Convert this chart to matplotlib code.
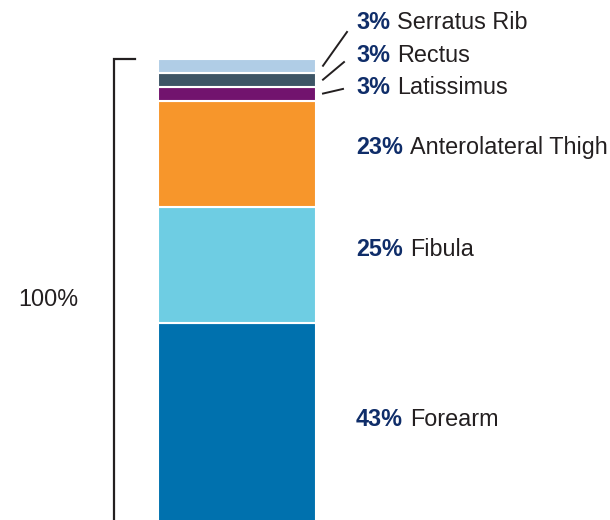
import matplotlib
matplotlib.use("Agg")
import matplotlib.pyplot as plt

# Data (bottom to top)
categories = ["Forearm", "Fibula", "Anterolateral Thigh", "Latissimus", "Rectus", "Serratus Rib"]
values = [43, 25, 23, 3, 3, 3]
total_label = "100%"

colors = ["#0071AE", "#6ECDE3", "#F7962B", "#72136E", "#3D5566", "#B0CDE6"]
pct_color = "#0F2D69"
name_color = "#231F20"
FONT = "Liberation Sans"
FS = 16.8

fig = plt.figure(figsize=(6.1, 5.2), dpi=100)
ax = fig.add_axes([0, 0, 1, 1])
ax.set_xlim(0, 610)
ax.set_ylim(0.43, 112.7)
ax.axis("off")

bar_x = 237
bar_w = 158
bottom = 0
mids = []
for cat, v, c in zip(categories, values, colors):
    ax.bar(bar_x, v, width=bar_w, bottom=bottom, color=c, edgecolor="white", linewidth=1.5)
    mids.append(bottom + v / 2)
    bottom += v

# bracket
ax.plot([135, 114, 114], [bottom, bottom, -5], color=name_color, lw=1.6,
        solid_joinstyle="miter", clip_on=False)
ax.text(48, 48.0, total_label, ha="center", va="center", fontsize=FS,
        color=name_color, family=FONT)

# label positions
label_x = 356
small_label_y = [93.8, 100.7, 107.8]
label_ys = [mids[0] + 0.6, mids[1] + 3.3, mids[2] + 1.3] + small_label_y

for i, (cat, v, ly) in enumerate(zip(categories, values, label_ys)):
    t = ax.text(label_x, ly, f"{v}%", ha="left", va="center", fontsize=FS,
                fontweight="bold", color=pct_color, family=FONT)
    ax.annotate(cat, xy=(1, 0.5), xycoords=t, xytext=(5, 0), textcoords="offset points",
                ha="left", va="center", fontsize=FS, color=name_color, family=FONT)

# leader lines for small segments
leader_end_x = [343, 344, 347]
leader_end_y = [93.5, 99.3, 105.8]
for mid, ex, ey in zip(mids[3:], leader_end_x, leader_end_y):
    ax.plot([323, ex], [mid, ey], color=name_color, lw=1.4)

fig.savefig("out.png", dpi=100)
